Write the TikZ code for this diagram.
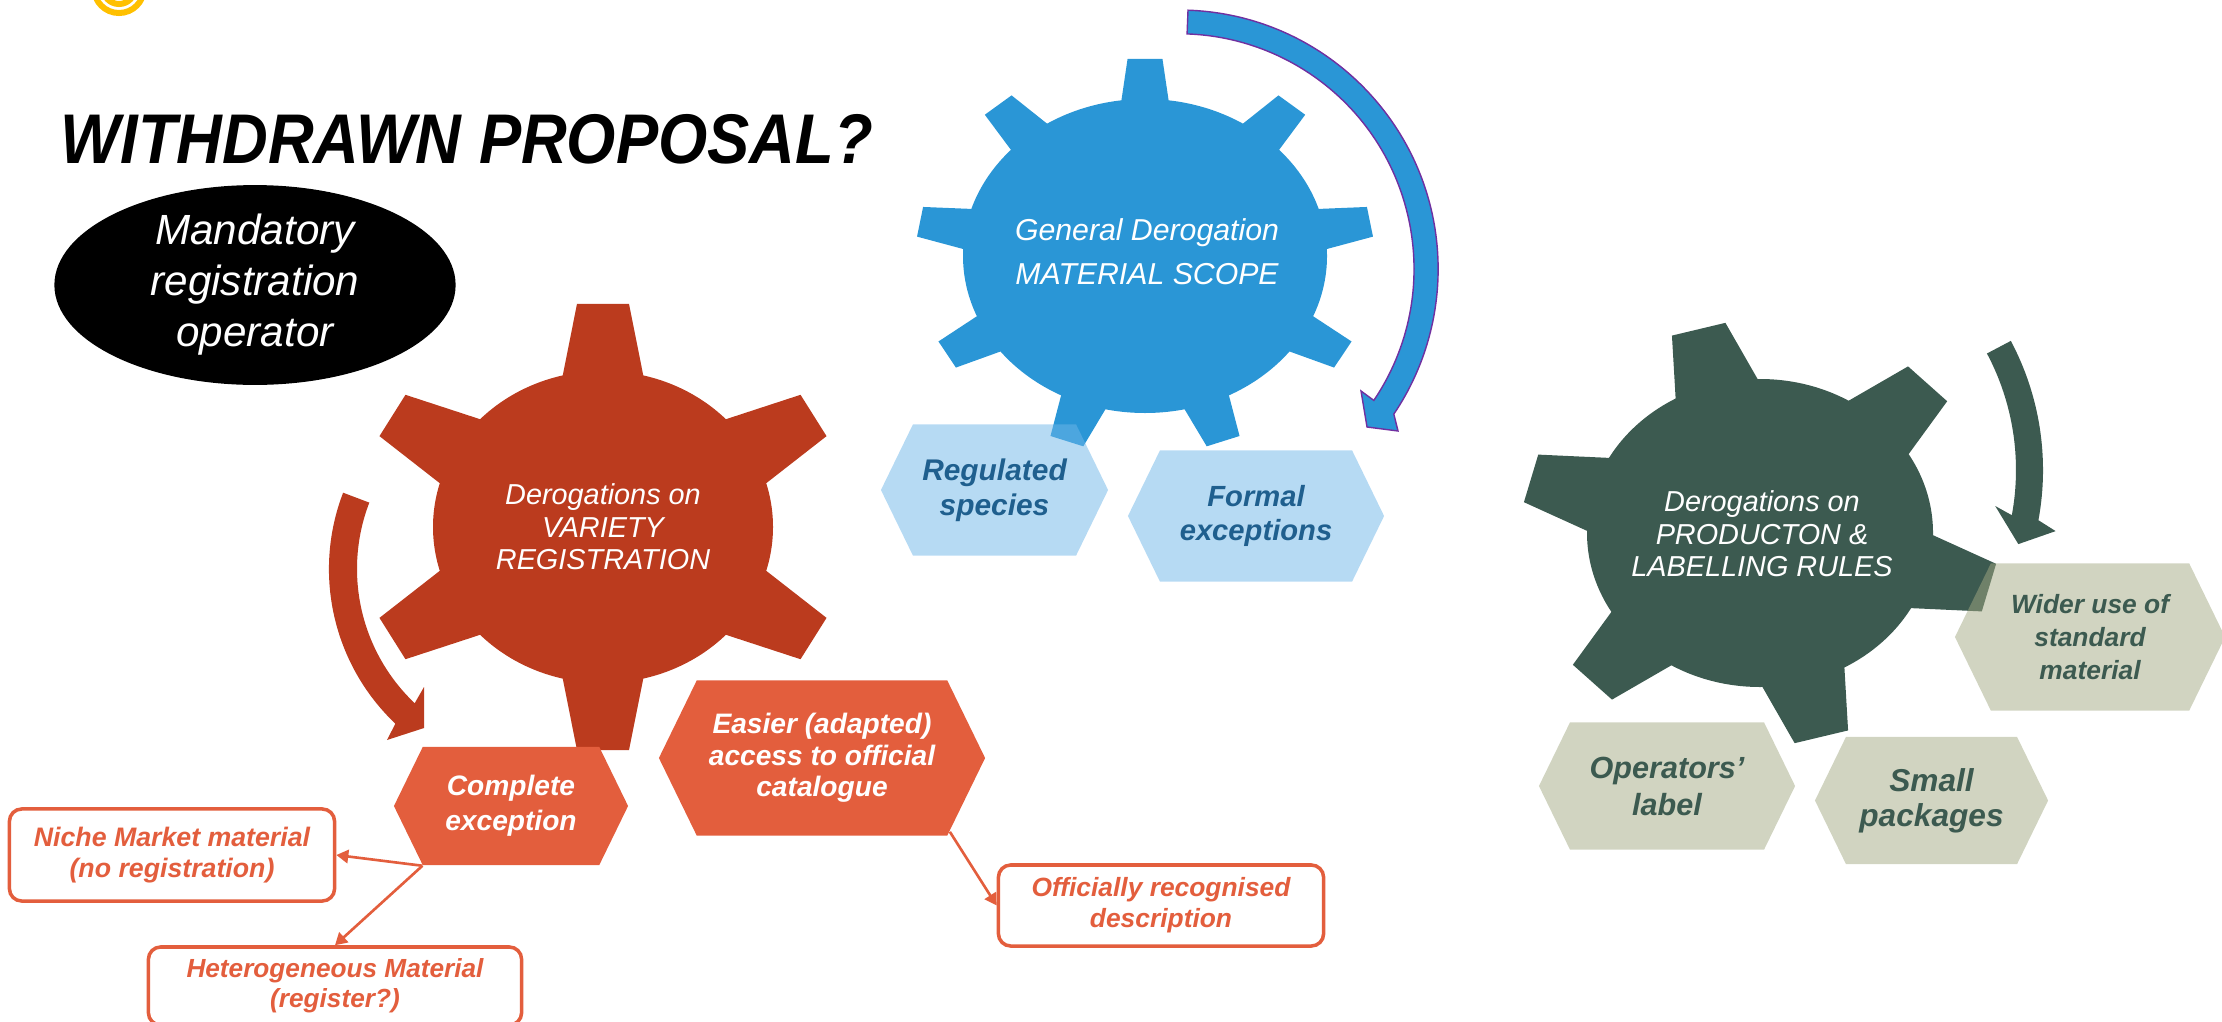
\documentclass[tikz,border=0pt]{standalone}
\usepackage{fontspec}
\setmainfont{Liberation Sans}
\usepackage{graphicx}
\usepackage{tikz}
\usetikzlibrary{arrows.meta,shapes.geometric,shapes.symbols}
\definecolor{gearRed}{RGB}{187,59,30}
\definecolor{hexRed}{RGB}{227,94,61}
\definecolor{gearBlue}{RGB}{42,150,214}
\definecolor{hexBlue}{RGB}{110,182,232}
\definecolor{textBlue}{RGB}{31,95,142}
\definecolor{gearGreen}{RGB}{60,90,80}
\definecolor{hexGreen}{RGB}{163,169,131}
\definecolor{arcPurple}{RGB}{112,48,160}
\definecolor{logoYellow}{RGB}{255,192,0}

\begin{document}
\begin{tikzpicture}[
  x=0.01cm, y=0.01cm,
  gearlabel/.style={text=white, align=center, inner sep=0pt},
  hexbox/.style={shape=signal, signal to=east and west, signal pointer angle=128,
                 inner sep=0pt, align=center},
  redhex/.style={hexbox, fill=hexRed, text=white},
  bluehex/.style={hexbox, fill=hexBlue, fill opacity=0.5, text opacity=1, text=textBlue},
  greenhex/.style={hexbox, fill=hexGreen, fill opacity=0.5, text opacity=1, text=gearGreen},
  note/.style={draw=hexRed, line width=1pt, rounded corners=3.5pt, fill=white,
               text=hexRed, align=center, inner sep=0pt},
  arrow/.style={draw=hexRed, line width=0.75pt, -{Triangle[length=3.4pt,width=3.8pt]}}
]
\useasboundingbox (0,0) rectangle (2222,-1021);

\draw[logoYellow, line width=0.06cm] (119,12) circle[radius=0.25cm];
\draw[logoYellow, line width=0.06cm] (119,12) circle[radius=0.16cm];

\node[anchor=base west, inner sep=0pt, font=\bfseries\itshape\fontsize{20}{24}\selectfont]
  (title) at (60,-163) {\scalebox{0.9}[1]{WITHDRAWN PROPOSAL?}};
\node[shape=ellipse, fill=black, text=white, minimum width=4.01cm, minimum height=1.8cm,
      inner sep=0pt, align=center, font=\itshape\fontsize{12}{14.5}\selectfont]
  (mandatory) at (255,-285) {Mandatory\\registration\\operator};

% gears
\begin{scope}[shift={(603,-527)}, xscale=170, yscale=156]
  \fill[gearRed] (0,0) circle[radius=0.01cm];
  \foreach \r in {0,60,...,300}
    \fill[gearRed, rotate=\r] (-0.25,0.9) -- (-0.153,1.43) -- (0.153,1.43) -- (0.25,0.9) -- cycle;
\end{scope}
\begin{scope}[shift={(1145,-256)}, xscale=182, yscale=157]
  \fill[gearBlue] (0,0) circle[radius=0.01cm];
  \foreach \r in {0,40,...,320}
    \fill[gearBlue, rotate=\r] (-0.135,0.95) -- (-0.096,1.255) -- (0.096,1.255) -- (0.135,0.95) -- cycle;
\end{scope}
\begin{scope}[shift={(1760,-533)}, xscale=173, yscale=154]
  \fill[gearGreen] (0,0) circle[radius=0.01cm];
  \foreach \r in {15,75,...,315}
    \fill[gearGreen, rotate=\r] (-0.26,0.9) -- (-0.16,1.37) -- (0.16,1.37) -- (0.26,0.9) -- cycle;
\end{scope}

% turning arrows
\fill[gearRed] (343.1,-492.7) arc[start angle=159, end angle=226.5, radius=2.13cm]
  -- (387,-740) -- (424,-728) -- (424,-687) -- (414.7,-703.2)
  arc[start angle=226.5, end angle=159, radius=1.85cm] -- cycle;
\filldraw[fill=gearBlue, draw=arcPurple, line width=0.4pt]
  (1188,-10.2) arc[start angle=88, end angle=-34, radius=2.59cm]
  -- (1398,-431) -- (1367,-427) -- (1361,-391) -- (1373.8,-400.4)
  arc[start angle=-34, end angle=88, radius=2.35cm] -- cycle;
\fill[gearGreen] (2010.8,-340.9) arc[start angle=28, end angle=-10.5, radius=2.75cm]
  -- (2055.6,-531.1) -- (2018.3,-544.1) -- (1995.2,-506) -- (2011.8,-515.2)
  arc[start angle=-10.5, end angle=28, radius=2.48cm] -- cycle;

\node[gearlabel, font=\itshape\fontsize{8.2}{9.25}\selectfont] (variety) at (603,-527)
  {Derogations on\\VARIETY\\REGISTRATION};
\node[gearlabel, font=\itshape\fontsize{8.6}{12.5}\selectfont] (scope) at (1147,-252)
  {General Derogation\\MATERIAL SCOPE};
\node[gearlabel, font=\itshape\fontsize{8.2}{9.25}\selectfont] (rules) at (1762,-534)
  {Derogations on\\PRODUCTON \&\\LABELLING RULES};

\node[redhex, minimum width=2.34cm, minimum height=1.18cm,
      font=\bfseries\itshape\fontsize{8}{10}\selectfont] (complete) at (511,-806) {Complete\\exception};
\node[redhex, minimum width=3.26cm, minimum height=1.55cm,
      font=\bfseries\itshape\fontsize{8}{9}\selectfont] (easier) at (822,-758) {Easier (adapted)\\access to official\\catalogue};
\node[bluehex, minimum width=2.27cm, minimum height=1.31cm,
      font=\bfseries\itshape\fontsize{8.5}{10}\selectfont] (regulated) at (994.5,-490) {Regulated\\species};
\node[bluehex, minimum width=2.56cm, minimum height=1.31cm,
      font=\bfseries\itshape\fontsize{8.3}{9.8}\selectfont] (formal) at (1256,-516) {Formal\\exceptions};
\node[greenhex, minimum width=2.70cm, minimum height=1.47cm,
      font=\bfseries\itshape\fontsize{7.5}{9.4}\selectfont] (wider) at (2090,-637) {Wider use of\\standard\\material};
\node[greenhex, minimum width=2.56cm, minimum height=1.27cm,
      font=\bfseries\itshape\fontsize{8.7}{10.5}\selectfont] (operators) at (1667,-786) {Operators’\\label};
\node[greenhex, minimum width=2.33cm, minimum height=1.27cm,
      font=\bfseries\itshape\fontsize{9}{10}\selectfont] (packages) at (1931.5,-800.5) {Small\\packages};

\node[note, minimum width=3.25cm, minimum height=0.92cm,
      font=\bfseries\itshape\fontsize{7.6}{9}\selectfont] (niche) at (172,-855) {Niche Market material\\(no registration)};
\node[note, minimum width=3.73cm, minimum height=0.78cm,
      font=\bfseries\itshape\fontsize{7.45}{8.5}\selectfont] (hetero) at (335,-986) {Heterogeneous Material\\(register?)};
\node[note, minimum width=3.25cm, minimum height=0.81cm,
      font=\bfseries\itshape\fontsize{7.5}{8.8}\selectfont] (official) at (1161,-905.5) {Officially recognised\\description};

\draw[arrow] (complete.214) -- (niche.east);
\draw[arrow] (complete.214) -- (hetero.north);
\draw[arrow] (easier.-30.6) -- (official.west);
\end{tikzpicture}
\end{document}
